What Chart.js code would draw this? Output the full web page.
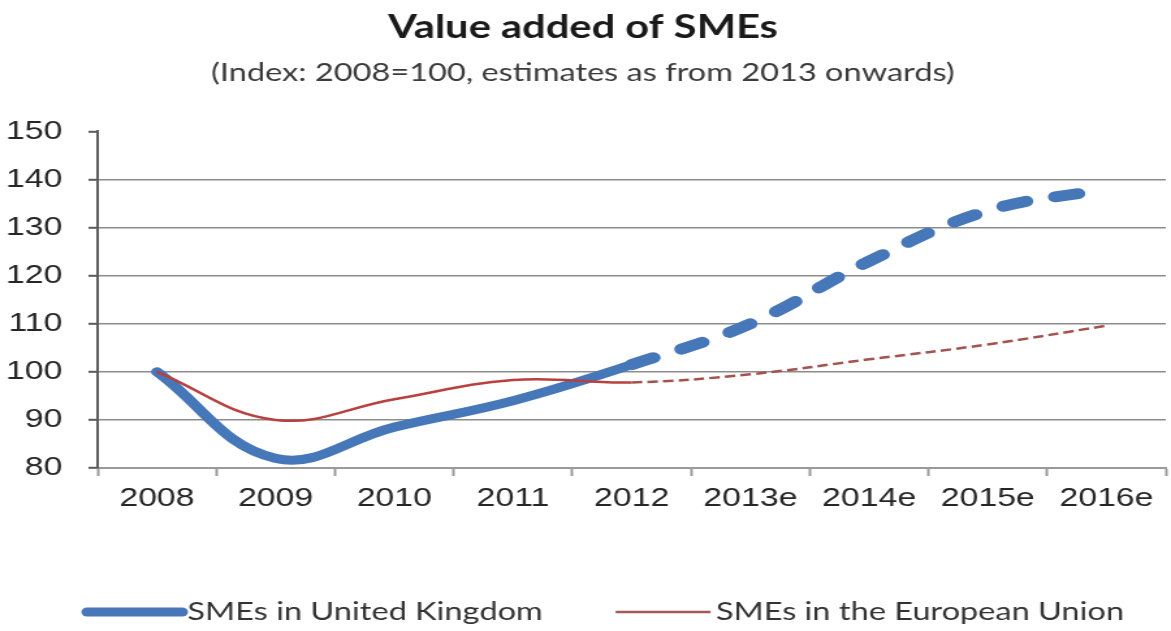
<!DOCTYPE html>
<html>
<head>
<meta charset="utf-8">
<title>Value added of SMEs</title>
<script src="https://cdn.jsdelivr.net/npm/chart.js@4.4.1/dist/chart.umd.min.js"></script>
<style>
  html, body { margin: 0; padding: 0; background: #fff; overflow: hidden; }
  /* chart is drawn narrow and widened, so the lettering comes out broad */
  #wrap { width: 900px; height: 631px; transform: scaleX(1.3011); transform-origin: 0 0; }
</style>
</head>
<body>
<div id="wrap"><canvas id="smeChart" width="900" height="631"></canvas></div>
<script>
// --- Data ---
const years = ['2008', '2009', '2010', '2011', '2012', '2013e', '2014e', '2015e', '2016e'];
const ukValues = [100, 82, 88.5, 94, 101.5, 110, 123, 133.5, 138];
const euValues = [100, 90, 94.3, 98.3, 97.8, 99.5, 102.6, 105.7, 109.6];
const yTicks = [80, 90, 100, 110, 120, 130, 140, 150];
const lastActual = 4; // 2012, estimates are dashed after this point

const UK_BLUE = '#4677b8';
const EU_RED = '#b8403f';
const EU_RED_EST = '#a2524f';

// style used only on the estimate segments
function onEstimate(value) {
    return ctx => ctx.p0DataIndex >= lastActual ? value : undefined;
}

// legend drawn as a long line sample followed by the label
const lineLegend = {
    id: 'lineLegend',
    afterDraw(chart) {
        const ctx = chart.ctx;
        const y = 612;
        let x = chart.chartArea.left - 8;
        ctx.save();
        ctx.font = '25px Lato';
        ctx.textBaseline = 'middle';
        chart.data.datasets.forEach(ds => {
            ctx.strokeStyle = ds.legendColor || ds.borderColor;
            ctx.lineWidth = ds.borderWidth;
            ctx.lineCap = ds.borderWidth > 4 ? 'round' : 'butt';
            ctx.beginPath();
            ctx.moveTo(x, y);
            ctx.lineTo(x + 73, y);
            ctx.stroke();
            x += 77;
            ctx.fillStyle = '#333';
            ctx.fillText(ds.label, x, y);
            x += ctx.measureText(ds.label).width + 56;
        });
        ctx.restore();
    }
};

new Chart(document.getElementById('smeChart'), {
    type: 'line',
    data: {
        labels: years,
        datasets: [
            {
                label: 'SMEs in United Kingdom',
                data: ukValues,
                borderColor: UK_BLUE,
                borderWidth: 9,
                borderCapStyle: 'round',
                borderJoinStyle: 'round',
                tension: 0.4,
                pointRadius: 0,
                order: 1,
                segment: {
                    borderDash: onEstimate([18, 23]),
                    borderWidth: onEstimate(11)
                }
            },
            {
                label: 'SMEs in the European Union',
                data: euValues,
                borderColor: EU_RED,
                legendColor: '#a45a58',
                borderWidth: 2.5,
                tension: 0.4,
                pointRadius: 0,
                order: 0,
                segment: {
                    borderDash: onEstimate([8, 4]),
                    borderColor: onEstimate(EU_RED_EST)
                }
            }
        ]
    },
    options: {
        responsive: false,
        animation: false,
        layout: { padding: { left: 0, right: 4, top: 0, bottom: 120 } },
        plugins: {
            legend: { display: false },
            tooltip: { enabled: false },
            title: {
                display: true,
                text: 'Value added of SMEs',
                color: '#1a1a1a',
                font: { family: 'Lato', size: 32, weight: 'bold', lineHeight: 1.2 },
                padding: { top: 8, bottom: 0 }
            },
            subtitle: {
                display: true,
                text: '(Index: 2008=100, estimates as from 2013 onwards)',
                color: '#3a3a3a',
                font: { family: 'Lato', size: 25, lineHeight: 1.2 },
                padding: { top: 12, bottom: 43 }
            }
        },
        scales: {
            x: {
                offset: true,
                afterFit: axis => { axis.height = 43; },
                border: { color: '#9a9a9a', width: 2 },
                grid: { offset: true, drawOnChartArea: false, tickLength: 8, tickColor: '#9a9a9a', tickWidth: 2 },
                ticks: {
                    color: '#262626',
                    padding: 7,
                    maxRotation: 0,
                    font: { family: 'Liberation Sans', size: 26 }
                }
            },
            y: {
                min: 80,
                max: 150,
                afterFit: axis => { axis.width = 75; },
                afterBuildTicks: axis => { axis.ticks = yTicks.map(v => ({ value: v })); },
                border: { color: '#5a5a5a', width: 2 },
                grid: {
                    color: ctx => ctx.tick && ctx.tick.value === 150 ? 'rgba(0,0,0,0)' : '#8c8c8c',
                    lineWidth: 1.6,
                    tickLength: 7,
                    tickColor: '#5a5a5a',
                    tickWidth: 2
                },
                ticks: {
                    color: '#262626',
                    padding: 20,
                    font: { family: 'Liberation Sans', size: 26 }
                }
            }
        }
    },
    plugins: [lineLegend]
});
</script>
</body>
</html>
